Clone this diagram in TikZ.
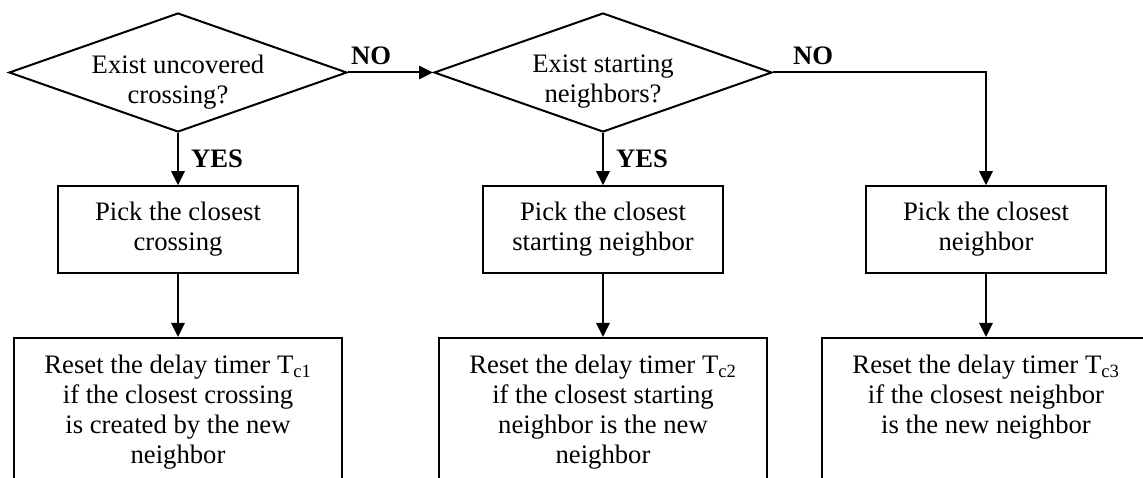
\documentclass[tikz,border=0pt]{standalone}
\usepackage{fontspec}
\setmainfont{Liberation Serif}
\usepackage{tikz}
\usetikzlibrary{positioning,shapes.geometric,arrows.meta}

\begin{document}
\begin{tikzpicture}[x=0.75pt,y=-0.75pt,node distance=117.75pt,on grid,
    font=\fontsize{20}{22.5}\selectfont,line width=1.5pt,
    >={Triangle[length=10.5pt,width=10pt]}]
    \tikzset{question/.style={draw,diamond,aspect=2.84,inner sep=0pt,
        minimum width=253.5pt,minimum height=89.25pt},
      asks/.style={align=center,yshift=-7pt},
      pick/.style={draw,rectangle,minimum width=180pt,minimum height=65pt,align=center},
      reset/.style={draw,rectangle,minimum width=246pt,minimum height=127.5pt},
      says/.style={align=center,anchor=north,yshift=-9.5pt},
      answer/.style={font=\fontsize{20}{22.5}\selectfont\bfseries,inner sep=0pt}}
    \useasboundingbox (0,0) rectangle (1143,478);
    \node[question,label={[asks]center:Exist uncovered\\crossing?}] (q1) at (178,72.5) {};
    \node[question,label={[asks]center:Exist starting\\neighbors?}] (q2) [right = 318.75pt of q1] {};
    \node[pick] (p1) [below = of q1] {Pick the closest\\crossing};
    \node[pick] (p2) [below = of q2] {Pick the closest\\starting neighbor};
    \node[pick] (p3) [right = 287.25pt of p2] {Pick the closest\\neighbor};
    \node[reset,label={[says]north:Reset the delay timer T\textsubscript{c1}\\if the closest crossing\\is created by the new\\neighbor}] (r1) [below = 145.1pt of p1] {};
    \node[reset,label={[says]north:Reset the delay timer T\textsubscript{c2}\\if the closest starting\\neighbor is the new\\neighbor}] (r2) [below = 145.1pt of p2] {};
    \node[reset,label={[says]north:Reset the delay timer T\textsubscript{c3}\\if the closest neighbor\\is the new neighbor}] (r3) [below = 145.1pt of p3] {};
    \path[->]
    (q1.east) edge node[answer,pos=0,anchor=base west,xshift=1.5pt,yshift=6pt] {NO} (q2.west)
    (q1.south) edge node[answer,pos=0.5,anchor=west,xshift=9pt] {YES} (p1.north)
    (q2.south) edge node[answer,pos=0.5,anchor=west,xshift=9pt] {YES} (p2.north)
    (p1.south) edge (r1.north)
    (p2.south) edge (r2.north)
    (p3.south) edge (r3.north);
    \draw[->] (q2.east) -- node[answer,pos=0,anchor=base west,xshift=14.25pt,yshift=6pt] {NO} (q2.east -| p3.north) -- (p3.north);
  \end{tikzpicture}
\end{document}
